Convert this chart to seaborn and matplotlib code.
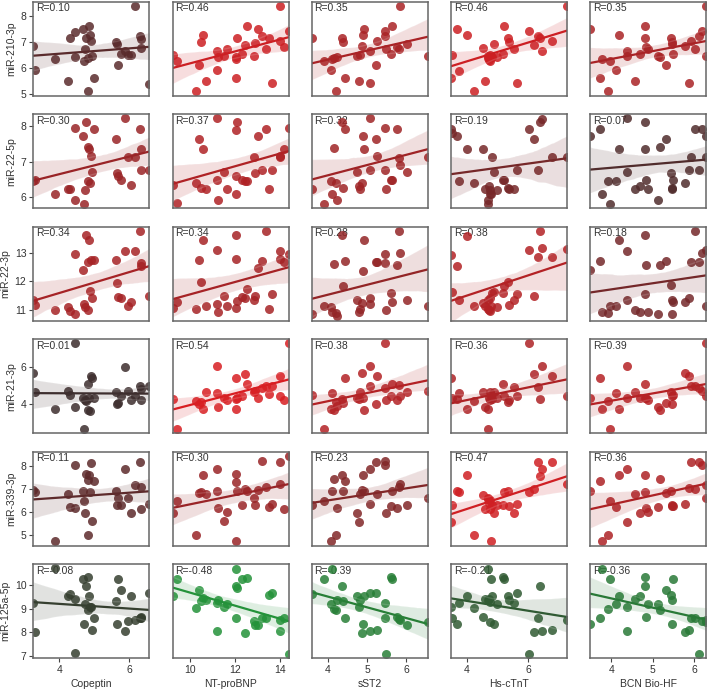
import numpy as np
import pandas as pd
import matplotlib
matplotlib.use("Agg")
import matplotlib.pyplot as plt
import seaborn as sns
from matplotlib.colors import LinearSegmentedColormap, Normalize

# ---- data (each column: its x values and the six miRNA values at those points) ----
# Column 1: Copeptin
copeptin = [3.26, 3.30, 3.88, 4.24, 4.30, 4.45, 4.46, 4.68, 4.70, 4.73, 4.78, 4.83, 4.83, 4.85, 4.88,
            4.92, 4.94, 5.00, 5.64, 5.65, 5.67, 5.78, 5.89, 5.97, 6.05, 6.17, 6.30, 6.33, 6.33, 6.58]
cop_mir210 = [6.85, 5.91, 6.34, 5.50, 7.15, 7.36, 6.43, 7.50, 6.26, 6.71, 7.15, 6.36, 5.09, 7.62, 7.26,
              7.04, 6.46, 5.62, 6.97, 6.91, 6.10, 6.51, 6.65, 6.49, 6.49, 8.37, 7.22, 6.74, 7.10, 5.37]
cop_mir22_5p = [6.44, 6.49, 6.09, 6.23, 6.23, 7.93, 5.91, 7.72, 5.81, 6.21, 8.11, 6.46, 7.42, 7.36, 6.41,
                7.16, 6.71, 7.91, 7.64, 6.69, 6.60, 6.48, 8.21, 7.14, 6.33, 7.14, 7.91, 7.35, 6.75, 6.75]
cop_mir22_3p = [11.36, 11.17, 11.00, 11.09, 10.95, 12.96, 10.87, 12.40, 11.21, 11.09, 13.61, 12.66, 11.00, 13.43, 11.65,
                12.73, 11.41, 12.75, 12.74, 11.94, 11.44, 11.41, 13.06, 11.12, 11.27, 13.06, 13.76, 12.65, 12.55, 11.50]
cop_mir21 = [5.65, 4.62, 3.75, 4.71, 4.50, 7.24, 3.82, 4.32, 2.67, 4.23, 4.14, 5.08, 3.70, 4.32, 3.65,
             5.50, 5.42, 4.32, 4.67, 4.02, 4.05, 4.41, 6.00, 4.71, 4.23, 4.41, 4.94, 4.83, 4.23, 4.94]
cop_mir339 = [6.97, 6.89, 4.70, 6.76, 6.21, 8.07, 6.17, 6.93, 6.49, 5.96, 7.66, 7.41, 5.00, 7.63, 6.86,
              8.15, 5.59, 7.34, 6.90, 6.31, 6.60, 6.28, 7.89, 6.62, 5.94, 7.17, 8.20, 7.08, 6.14, 6.35]
cop_mir125a = [9.23, 8.02, 10.71, 9.55, 9.62, 9.41, 7.11, 10.25, 8.34, 9.20, 9.97, 10.35, 8.95, 9.53, 9.09,
               9.07, 8.09, 8.62, 9.34, 8.34, 10.25, 9.79, 8.05, 8.47, 9.55, 8.54, 8.62, 8.65, 8.60, 9.69]

# Column 2: NT-proBNP
nt_probnp = [9.22, 9.43, 10.28, 10.40, 10.48, 10.60, 10.73, 11.19, 11.22, 11.25, 11.52, 11.64, 12.04, 12.04, 12.06,
             12.09, 12.30, 12.45, 12.54, 12.84, 12.90, 13.04, 13.21, 13.39, 13.54, 13.66, 13.99, 14.03, 14.18, 14.39]
nt_mir210 = [6.49, 6.26, 5.10, 6.10, 7.00, 7.26, 5.50, 5.91, 6.65, 6.42, 6.46, 6.71, 6.33, 5.62, 6.40,
             7.15, 6.53, 6.87, 7.62, 6.46, 6.94, 7.47, 7.22, 6.71, 7.15, 5.40, 7.03, 8.37, 6.78, 7.41]
nt_mir22_5p = [6.35, 5.83, 6.41, 7.64, 6.27, 7.36, 6.23, 6.47, 8.21, 5.93, 6.72, 6.23, 6.09, 6.60, 7.89,
               8.10, 6.48, 6.44, 6.46, 7.14, 6.69, 7.72, 6.75, 7.91, 6.23, 6.75, 7.17, 7.12, 7.35, 7.93]
nt_mir22_3p = [11.07, 11.29, 11.04, 12.75, 11.99, 13.46, 11.15, 11.21, 13.08, 10.92, 11.47, 11.15, 13.61, 12.77, 11.07,
               11.30, 11.44, 11.42, 11.74, 11.33, 11.50, 12.47, 12.71, 13.76, 11.04, 11.56, 13.05, 12.79, 12.67, 12.96]
nt_mir21 = [4.27, 2.69, 4.14, 4.02, 4.10, 3.73, 4.67, 4.59, 6.04, 3.82, 4.32, 4.20, 5.42, 3.75, 4.28,
            4.30, 4.44, 5.60, 5.08, 4.67, 4.71, 4.32, 4.85, 4.98, 4.53, 4.98, 5.51, 4.44, 4.23, 7.24]
nt_mir339 = [5.94, 6.49, 4.97, 6.83, 6.87, 7.61, 6.76, 6.90, 7.90, 6.17, 5.59, 5.98, 7.66, 4.70, 7.31,
             6.90, 6.28, 7.00, 6.90, 6.62, 6.31, 6.97, 8.23, 7.08, 6.21, 6.35, 8.17, 7.20, 6.14, 8.45]
nt_mir125a = [9.55, 10.25, 9.02, 9.79, 9.34, 9.48, 9.37, 9.23, 8.05, 9.37, 9.09, 9.20, 10.67, 8.62, 9.97,
              9.90, 10.25, 7.98, 10.32, 8.47, 8.33, 8.33, 8.62, 8.62, 9.58, 9.67, 8.54, 8.05, 8.62, 7.09]

# Column 3: sST2
sst2 = [3.59, 3.91, 4.09, 4.10, 4.17, 4.21, 4.23, 4.36, 4.40, 4.44, 4.74, 4.79, 4.81, 4.87, 4.91,
        4.93, 5.09, 5.09, 5.24, 5.26, 5.45, 5.47, 5.49, 5.62, 5.64, 5.77, 5.81, 5.85, 6.03, 6.55]
sst2_mir210 = [7.15, 6.27, 5.91, 6.33, 6.36, 5.10, 6.42, 7.15, 7.00, 5.62, 6.46, 5.50, 6.50, 6.85, 7.26,
               7.47, 6.65, 5.40, 6.10, 7.03, 7.22, 7.41, 6.71, 6.51, 7.62, 6.78, 6.72, 8.37, 6.91, 6.46]
sst2_mir22_5p = [6.22, 5.81, 6.46, 6.09, 7.39, 6.41, 5.91, 8.12, 6.25, 7.91, 6.72, 6.32, 6.22, 6.41, 7.73,
                 7.36, 8.21, 6.75, 7.64, 7.17, 6.75, 7.93, 6.22, 6.49, 6.49, 7.91, 7.11, 6.90, 6.70, 7.12]
sst2_mir22_3p = [10.86, 11.13, 11.09, 10.92, 12.59, 10.88, 10.77, 13.61, 11.85, 12.70, 11.33, 10.92, 11.04, 11.23, 12.36,
                 13.43, 11.41, 11.20, 12.67, 12.67, 12.64, 12.96, 10.98, 11.58, 11.27, 12.56, 13.76, 12.99, 11.35, 11.15]
sst2_mir21 = [4.50, 2.69, 3.75, 4.59, 3.66, 4.11, 3.88, 4.28, 4.05, 5.42, 4.32, 4.27, 4.67, 5.65, 4.32,
              3.70, 6.04, 4.94, 4.02, 5.51, 7.24, 4.85, 4.20, 4.41, 5.08, 4.20, 5.03, 4.44, 4.67, 4.71]
sst2_mir339 = [6.28, 6.49, 4.74, 6.90, 7.42, 4.97, 6.17, 7.63, 6.90, 7.35, 5.94, 5.57, 6.76, 6.97, 7.63,
               6.90, 7.89, 6.35, 8.18, 6.79, 8.23, 8.04, 5.96, 6.25, 6.90, 6.17, 7.11, 7.22, 6.31, 6.62]
sst2_mir125a = [9.62, 10.25, 9.20, 10.70, 9.00, 8.95, 9.37, 9.97, 9.32, 8.62, 9.55, 9.09, 9.37, 7.98, 8.34,
                9.53, 8.05, 9.69, 9.69, 8.09, 9.23, 8.62, 7.09, 10.35, 10.25, 8.65, 8.58, 8.54, 8.33, 8.44]

# Column 4: Hs-cTnT
hs_ctnt = [3.49, 3.51, 3.70, 3.76, 4.02, 4.25, 4.55, 4.60, 4.69, 4.71, 4.74, 4.77, 4.77, 4.80, 4.82,
           4.91, 5.00, 5.20, 5.23, 5.34, 5.37, 5.53, 5.64, 6.05, 6.19, 6.33, 6.40, 6.46, 6.77, 7.27]
tnt_mir210 = [5.62, 6.49, 7.47, 5.88, 7.26, 5.10, 6.77, 5.50, 6.45, 6.36, 6.30, 6.26, 6.49, 6.40, 6.40,
              6.90, 6.40, 6.51, 7.62, 7.15, 6.97, 6.71, 5.40, 7.41, 6.87, 7.22, 7.15, 6.65, 7.03, 8.37]
tnt_mir22_5p = [7.91, 7.80, 7.73, 6.46, 7.36, 6.41, 7.36, 6.22, 5.93, 5.81, 6.30, 6.09, 6.20, 6.10, 7.14,
                6.70, 6.20, 6.49, 6.47, 6.25, 6.23, 6.23, 6.75, 7.92, 7.64, 6.75, 8.12, 8.20, 7.14, 7.14]
tnt_mir22_3p = [12.91, 11.62, 12.53, 11.33, 13.57, 11.15, 11.23, 11.15, 11.04, 11.35, 11.00, 11.41, 10.95, 11.15, 11.58,
                11.62, 11.10, 11.58, 11.82, 11.97, 11.18, 11.35, 11.54, 13.10, 11.50, 12.85, 13.75, 13.18, 12.85, 13.14]
tnt_mir21 = [5.38, 4.32, 4.27, 4.59, 3.73, 4.14, 4.67, 3.84, 3.73, 2.69, 4.30, 4.67, 4.20, 4.50, 4.27,
             4.67, 4.30, 5.06, 4.44, 4.09, 4.23, 4.90, 4.44, 7.24, 5.61, 4.90, 4.28, 6.04, 5.51, 4.44]
tnt_mir339 = [5.57, 6.30, 6.90, 6.86, 7.61, 4.97, 6.73, 6.14, 6.58, 6.62, 6.40, 6.12, 6.50, 4.70, 6.31,
              5.94, 6.30, 6.28, 6.86, 6.90, 6.25, 5.96, 6.35, 6.86, 7.00, 8.20, 7.59, 7.89, 8.17, 7.20]
tnt_mir125a = [9.09, 8.62, 8.34, 9.23, 9.53, 9.04, 8.67, 9.41, 9.37, 10.67, 9.41, 8.44, 9.30, 10.25, 9.55,
               8.34, 9.20, 10.35, 10.25, 9.55, 9.37, 9.23, 9.69, 7.09, 8.02, 8.62, 9.97, 8.05, 8.09, 8.54]

# Column 5: BCN Bio-HF
bcn_bio_hf = [3.49, 3.72, 3.78, 3.93, 3.98, 4.12, 4.18, 4.37, 4.38, 4.57, 4.69, 4.81, 4.81, 4.83, 4.88,
              5.14, 5.18, 5.33, 5.45, 5.46, 5.46, 5.50, 5.79, 5.87, 5.93, 6.02, 6.13, 6.20, 6.28, 6.29]
bcn_mir210 = [7.47, 5.62, 6.33, 5.10, 6.26, 5.91, 7.26, 6.65, 6.46, 5.50, 6.51, 7.62, 7.15, 6.78, 6.71,
              6.46, 6.40, 6.10, 7.15, 6.97, 6.90, 6.51, 6.85, 5.40, 7.03, 6.71, 7.22, 7.41, 8.37, 6.46]
bcn_mir22_5p = [7.73, 7.91, 6.09, 6.46, 5.81, 6.46, 7.36, 6.72, 8.21, 6.22, 6.32, 8.12, 7.36, 6.47, 6.22,
                5.93, 7.42, 7.64, 6.69, 6.22, 6.25, 6.49, 6.41, 6.75, 7.14, 7.91, 6.75, 7.91, 7.14, 7.72]
bcn_mir22_3p = [12.38, 12.70, 10.92, 10.88, 11.15, 11.12, 13.43, 13.06, 11.33, 11.00, 10.92, 13.61, 11.56, 12.56, 10.92,
                10.86, 12.56, 12.70, 11.88, 11.35, 10.86, 11.27, 11.27, 11.41, 12.67, 13.75, 12.67, 12.99, 11.15, 13.10]
bcn_mir21 = [4.32, 5.38, 3.75, 4.14, 2.69, 4.59, 3.75, 6.04, 4.32, 4.67, 4.32, 5.08, 4.30, 4.32, 4.20,
             3.84, 3.66, 4.05, 4.62, 4.44, 4.02, 4.50, 5.65, 5.51, 4.94, 4.94, 4.85, 4.70, 7.24, 4.44]
bcn_mir339 = [6.90, 7.34, 4.70, 4.97, 6.49, 6.20, 7.63, 7.89, 5.57, 6.76, 5.94, 7.63, 6.86, 6.17, 6.00,
              6.21, 7.42, 6.83, 6.90, 6.28, 6.25, 6.25, 6.35, 7.04, 8.17, 7.00, 8.17, 8.07, 6.62, 7.17]
bcn_mir125a = [8.37, 8.62, 10.67, 9.00, 10.25, 9.20, 9.53, 9.09, 8.05, 9.41, 9.53, 9.97, 10.35, 8.65, 9.20,
               9.20, 8.95, 9.79, 9.58, 9.37, 8.34, 10.25, 8.02, 8.09, 8.62, 8.62, 7.09, 8.50, 8.54, 8.44]

x_names = ["Copeptin", "NT-proBNP", "sST2", "Hs-cTnT", "BCN Bio-HF"]
y_names = ["miR-210-3p", "miR-22-5p", "miR-22-3p", "miR-21-3p", "miR-339-3p", "miR-125a-5p"]
r_values = [[0.10, 0.46, 0.35, 0.46, 0.35],
            [0.30, 0.37, 0.32, 0.19, 0.07],
            [0.34, 0.34, 0.28, 0.38, 0.18],
            [0.01, 0.54, 0.38, 0.36, 0.39],
            [0.11, 0.30, 0.23, 0.47, 0.36],
            [-0.08, -0.48, -0.39, -0.21, -0.36]]
x_ticks = [[4, 6], [10, 12, 14], [4, 5, 6], [4, 6], [4, 5, 6]]
y_ticks = [[5, 6, 7, 8], [6, 7, 8], [11, 12, 13], [4, 6], [5, 6, 7, 8], [7, 8, 9, 10]]

columns = [
    (copeptin, [cop_mir210, cop_mir22_5p, cop_mir22_3p, cop_mir21, cop_mir339, cop_mir125a]),
    (nt_probnp, [nt_mir210, nt_mir22_5p, nt_mir22_3p, nt_mir21, nt_mir339, nt_mir125a]),
    (sst2, [sst2_mir210, sst2_mir22_5p, sst2_mir22_3p, sst2_mir21, sst2_mir339, sst2_mir125a]),
    (hs_ctnt, [tnt_mir210, tnt_mir22_5p, tnt_mir22_3p, tnt_mir21, tnt_mir339, tnt_mir125a]),
    (bcn_bio_hf, [bcn_mir210, bcn_mir22_5p, bcn_mir22_3p, bcn_mir21, bcn_mir339, bcn_mir125a]),
]
frames = []
for xname, (xv, ys) in zip(x_names, columns):
    d = {xname: xv}
    for yname, yv in zip(y_names, ys):
        d[yname] = yv
    frames.append(pd.DataFrame(d))

# ---- style ----
sns.set_style("ticks")
plt.rcParams["font.family"] = ["Liberation Sans", "DejaVu Sans"]
FS = 7.5

cmap = LinearSegmentedColormap.from_list("gr", ["#23963a", "#3a2e2e", "#d81e22"])
norm = Normalize(-0.5, 0.5)

W, H = 709, 690
fig = plt.figure(figsize=(W / 100, H / 100), dpi=100)

col_left0, col_pitch, ax_w = 33.3, 139.2, 116.0
row_top0, row_pitch, ax_h = 1.7, 112.5, 94.0

for i, yname in enumerate(y_names):
    lo = min(f[yname].min() for f in frames)
    hi = max(f[yname].max() for f in frames)
    pad = 0.05 * (hi - lo)
    for j, xname in enumerate(x_names):
        df = frames[j]
        left = (col_left0 + col_pitch * j) / W
        bottom = 1 - (row_top0 + row_pitch * i + ax_h) / H
        ax = fig.add_axes([left, bottom, ax_w / W, ax_h / H])
        r = r_values[i][j]
        color = cmap(norm(r))
        sns.regplot(data=df, x=xname, y=yname, ax=ax, color=color, ci=95, seed=0,
                    scatter_kws=dict(s=42, alpha=0.85, linewidths=0),
                    line_kws=dict(linewidth=1.6))
        ax.set_xlim(df[xname].min(), df[xname].max())
        ax.set_ylim(lo - pad, hi + pad)
        ax.set_xticks(x_ticks[j])
        ax.set_yticks(y_ticks[i])
        ax.text(0.025, 0.985, f"R={r:.2f}", transform=ax.transAxes, ha="left", va="top",
                fontsize=FS, color="#333333", zorder=0.5)
        for sp in ax.spines.values():
            sp.set_color("#666666")
            sp.set_linewidth(1.1)
        ax.tick_params(length=3, width=0.8, color="#444444", labelsize=FS, pad=2,
                       labelcolor="#333333")
        if j == 0:
            ax.set_ylabel(yname, fontsize=FS, color="#333333", labelpad=3)
        else:
            ax.set_ylabel("")
            ax.tick_params(left=False, labelleft=False)
        if i == len(y_names) - 1:
            ax.set_xlabel(xname, fontsize=FS, color="#333333", labelpad=3)
        else:
            ax.set_xlabel("")
            ax.tick_params(bottom=False, labelbottom=False)

fig.savefig("out.png", dpi=100)
